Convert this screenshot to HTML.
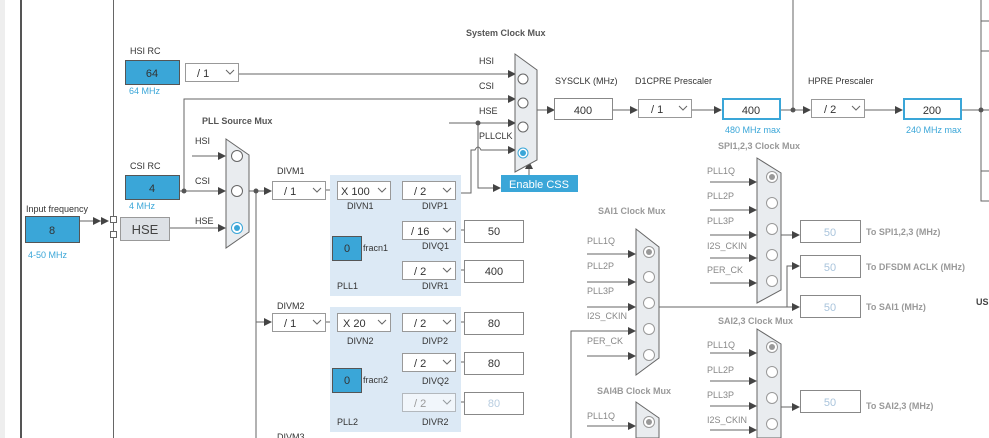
<!DOCTYPE html>
<html><head><style>
html,body{margin:0;padding:0;background:#fff;}
svg{display:block;font-family:"Liberation Sans",Arial,sans-serif;}
.l{font-size:9px;fill:#333;}
.g{font-size:9px;fill:#888;}
.b{font-size:9px;fill:#3aa6d8;}
.t{font-size:9px;fill:#555;font-weight:bold;}
.tg{font-size:9px;fill:#999;font-weight:bold;}
.v{font-size:11px;fill:#333;}
</style></head><body>
<svg width="989" height="438" viewBox="0 0 989 438" xmlns="http://www.w3.org/2000/svg">
<defs>
<marker id="a" markerWidth="8" markerHeight="8" refX="7" refY="4" orient="auto" markerUnits="userSpaceOnUse"><path d="M0,0 L8,4 L0,8z" fill="#444"/></marker>
<symbol id="dd" viewBox="0 0 54 19"><rect x="0.5" y="0.5" width="53" height="18" fill="#fff" stroke="#999"/><path d="M41,7 l4,4 l4,-4" fill="none" stroke="#666"/></symbol>
</defs>
<rect x="0" y="0" width="5" height="438" fill="#eee"/>
<rect x="20" y="0" width="2" height="438" fill="#555"/>
<line x1="113.5" y1="0" x2="113.5" y2="438" stroke="#666"/>

<g stroke="#666" fill="none">
<line x1="239" y1="74" x2="515" y2="74" marker-end="url(#a)"/>
<polyline points="184,191 184,99 515,99" marker-end="url(#a)"/>
<line x1="449" y1="123" x2="515" y2="123" marker-end="url(#a)"/>
<path d="M456,193 H471 V150 H475 Q478,144 481,150 H515" marker-end="url(#a)"/>
<polyline points="478,123 478,188 500,188" marker-end="url(#a)"/>
<line x1="529" y1="175" x2="529" y2="162" marker-end="url(#a)"/>
<line x1="537" y1="110" x2="554" y2="110" marker-end="url(#a)"/>
<line x1="612" y1="110" x2="637" y2="110" marker-end="url(#a)"/>
<line x1="692" y1="110" x2="721" y2="110" marker-end="url(#a)"/>
<line x1="780" y1="110" x2="810" y2="110" marker-end="url(#a)"/>
<line x1="793" y1="0" x2="793" y2="110"/>
<line x1="864" y1="110" x2="902" y2="110" marker-end="url(#a)"/>
<line x1="961" y1="110" x2="989" y2="110"/>
<polyline points="981,0 981,201 989,201"/>
<line x1="981" y1="21" x2="989" y2="21"/><line x1="981" y1="51" x2="989" y2="51"/><line x1="981" y1="171" x2="989" y2="171"/>
<line x1="192" y1="156" x2="225" y2="156" marker-end="url(#a)"/>
<line x1="179" y1="191" x2="225" y2="191" marker-end="url(#a)"/>
<line x1="169" y1="228" x2="225" y2="228" marker-end="url(#a)"/>
<line x1="80" y1="221" x2="100" y2="221" marker-end="url(#a)"/>
<line x1="100" y1="221" x2="108" y2="221" marker-end="url(#a)"/>
<line x1="249" y1="191" x2="271" y2="191" marker-end="url(#a)"/>
<line x1="256" y1="191" x2="256" y2="438"/>
<line x1="256" y1="322" x2="271" y2="322" marker-end="url(#a)"/>
<line x1="326" y1="190" x2="337" y2="190"/><line x1="391" y1="190" x2="402" y2="190"/>
<polyline points="394,190 394,270 402,270"/><line x1="394" y1="230" x2="402" y2="230"/>
<line x1="456" y1="230" x2="464" y2="230"/><line x1="456" y1="270" x2="464" y2="270"/>
<line x1="326" y1="322" x2="337" y2="322"/><line x1="391" y1="322" x2="402" y2="322"/>
<polyline points="394,322 394,402 402,402"/><line x1="394" y1="362" x2="402" y2="362"/>
<line x1="456" y1="322" x2="464" y2="322"/><line x1="456" y1="362" x2="464" y2="362"/><line x1="456" y1="402" x2="464" y2="402"/>
<!-- SPI inputs -->
<line x1="710" y1="182" x2="756" y2="182" marker-end="url(#a)"/>
<line x1="710" y1="210" x2="756" y2="210" marker-end="url(#a)"/>
<line x1="710" y1="235" x2="756" y2="235" marker-end="url(#a)"/>
<line x1="710" y1="258" x2="756" y2="258" marker-end="url(#a)"/>
<line x1="710" y1="283" x2="756" y2="283" marker-end="url(#a)"/>
<line x1="781" y1="235" x2="799" y2="235" marker-end="url(#a)"/>
<!-- SAI1 -->
<line x1="587" y1="254" x2="635" y2="254" marker-end="url(#a)"/>
<line x1="587" y1="282" x2="635" y2="282" marker-end="url(#a)"/>
<line x1="587" y1="307" x2="635" y2="307" marker-end="url(#a)"/>
<polyline points="571,438 571,331 635,331" marker-end="url(#a)"/>
<line x1="587" y1="356" x2="635" y2="356" marker-end="url(#a)"/>
<line x1="659" y1="307" x2="799" y2="307" marker-end="url(#a)"/>
<polyline points="787,307 787,266 799,266" marker-end="url(#a)"/>
<!-- SAI2,3 -->
<line x1="710" y1="353" x2="756" y2="353" marker-end="url(#a)"/>
<line x1="710" y1="381" x2="756" y2="381" marker-end="url(#a)"/>
<line x1="710" y1="406" x2="756" y2="406" marker-end="url(#a)"/>
<line x1="710" y1="430" x2="756" y2="430" marker-end="url(#a)"/>
<line x1="781" y1="407" x2="799" y2="407" marker-end="url(#a)"/>
<line x1="587" y1="426" x2="635" y2="426" marker-end="url(#a)"/>
</g>
<g fill="#555"><circle cx="184" cy="191" r="2.5"/><circle cx="256" cy="191" r="2.5"/><circle cx="478" cy="123" r="2.5"/><circle cx="793" cy="110" r="2.5"/><circle cx="981" cy="110" r="2.5"/></g>
<g fill="#fff" stroke="#666"><rect x="110.5" y="216.5" width="6" height="6"/><rect x="110.5" y="231.5" width="6" height="6"/></g>

<!-- PLL panels -->
<rect x="330" y="175" width="131" height="121" fill="#dce9f5"/>
<rect x="330" y="307" width="131" height="125" fill="#dce9f5"/>

<!-- blue boxes -->
<g fill="#3aa6d8" stroke="#555"><rect x="125.5" y="60.5" width="54" height="24"/><rect x="125.5" y="175.5" width="54" height="24"/><rect x="25.5" y="216.5" width="54" height="26"/><rect x="332.5" y="236.5" width="29" height="24"/><rect x="332.5" y="368.5" width="29" height="24"/></g>
<text class="v" x="152" y="77" text-anchor="middle">64</text>
<text class="v" x="152" y="192" text-anchor="middle">4</text>
<text class="v" x="52" y="234" text-anchor="middle">8</text>
<text class="v" x="347" y="252" text-anchor="middle">0</text>
<text class="v" x="347" y="384" text-anchor="middle">0</text>
<rect x="120.5" y="217.5" width="49" height="23" fill="#dde1e6" stroke="#999"/>
<text x="145" y="234" text-anchor="middle" style="font-size:13px;fill:#444">HSE</text>

<!-- dropdowns -->
<use href="#dd" x="185" y="63" width="54" height="19"/><text class="v" x="197" y="77">/ 1</text>
<use href="#dd" x="272" y="181" width="54" height="19"/><text class="v" x="284" y="195">/ 1</text>
<use href="#dd" x="337" y="181" width="54" height="19"/><text class="v" x="341" y="195">X 100</text>
<use href="#dd" x="402" y="181" width="54" height="19"/><text class="v" x="414" y="195">/ 2</text>
<use href="#dd" x="402" y="221" width="54" height="19"/><text class="v" x="411" y="235">/ 16</text>
<use href="#dd" x="402" y="261" width="54" height="19"/><text class="v" x="414" y="275">/ 2</text>
<use href="#dd" x="272" y="313" width="54" height="19"/><text class="v" x="284" y="327">/ 1</text>
<use href="#dd" x="337" y="313" width="54" height="19"/><text class="v" x="343" y="327">X 20</text>
<use href="#dd" x="402" y="313" width="54" height="19"/><text class="v" x="414" y="327">/ 2</text>
<use href="#dd" x="402" y="353" width="54" height="19"/><text class="v" x="414" y="367">/ 2</text>
<use href="#dd" x="402" y="393" width="54" height="19" opacity="0.6"/><text class="v" x="414" y="407" style="fill:#999">/ 2</text>
<use href="#dd" x="638" y="99" width="54" height="19"/><text class="v" x="651" y="113">/ 1</text>
<use href="#dd" x="811" y="99" width="54" height="19"/><text class="v" x="824" y="113">/ 2</text>

<!-- value boxes -->
<g fill="#fff" stroke="#888">
<rect x="464.5" y="220.5" width="59" height="22"/><rect x="464.5" y="260.5" width="59" height="22"/>
<rect x="464.5" y="312.5" width="59" height="22"/><rect x="464.5" y="352.5" width="59" height="22"/><rect x="464.5" y="392.5" width="59" height="22"/>
<rect x="554.5" y="98.5" width="58" height="21"/>
<rect x="800.5" y="220.5" width="60" height="22"/><rect x="800.5" y="255.5" width="60" height="22"/><rect x="800.5" y="295.5" width="60" height="22"/><rect x="800.5" y="390.5" width="60" height="22"/>
</g>
<g fill="#fff" stroke="#3aa6d8" stroke-width="2"><rect x="723" y="99" width="57" height="20"/><rect x="904" y="99" width="57" height="20"/></g>
<g class="v" text-anchor="middle">
<text x="494" y="235">50</text><text x="494" y="275">400</text><text x="494" y="327">80</text><text x="494" y="367">80</text><text x="494" y="407" style="fill:#b8cde0">80</text>
<text x="583" y="114">400</text><text x="751" y="114">400</text><text x="932" y="114">200</text>
<g style="fill:#a9c4dc"><text x="830" y="236">50</text><text x="830" y="271">50</text><text x="830" y="311">50</text><text x="830" y="406">50</text></g>
</g>
<rect x="501" y="175" width="77" height="17" fill="#3aa6d8"/>
<text x="539" y="188" text-anchor="middle" style="font-size:11px;fill:#fff">Enable CSS</text>

<!-- muxes -->
<g fill="#e9ecef" stroke="#666">
<polygon points="226,139 249,155 249,232 226,248"/>
<polygon points="515,54 537,70 537,160 515,172"/>
<polygon points="757,158 781,173 781,290 757,303"/>
<polygon points="636,229 659,247 659,358 636,375"/>
<polygon points="757,329 781,344 781,438 757,438"/>
<polygon points="636,402 659,418 659,438 636,438"/>
</g>
<g fill="#fff" stroke="#666">
<circle cx="237" cy="156" r="5.5"/><circle cx="237" cy="191" r="5.5"/><circle cx="237" cy="228" r="5.5" stroke="#3aa6d8"/>
<circle cx="523" cy="79" r="5"/><circle cx="523" cy="103" r="5"/><circle cx="523" cy="127" r="5"/><circle cx="523" cy="153" r="5" stroke="#3aa6d8"/>
</g>
<g fill="#fff" stroke="#999">
<circle cx="772" cy="177" r="5.5"/><circle cx="772" cy="203" r="5.5"/><circle cx="772" cy="229" r="5.5"/><circle cx="772" cy="255" r="5.5"/><circle cx="772" cy="281" r="5.5"/>
<circle cx="649" cy="252" r="5.5"/><circle cx="649" cy="277" r="5.5"/><circle cx="649" cy="303" r="5.5"/><circle cx="649" cy="329" r="5.5"/><circle cx="649" cy="355" r="5.5"/>
<circle cx="772" cy="347" r="5.5"/><circle cx="772" cy="372" r="5.5"/><circle cx="772" cy="398" r="5.5"/><circle cx="772" cy="424" r="5.5"/>
<circle cx="649" cy="422" r="5.5"/>
</g>
<g fill="#3aa6d8"><circle cx="237" cy="228" r="3"/><circle cx="523" cy="153" r="3"/></g>
<g fill="#999"><circle cx="772" cy="177" r="3"/><circle cx="649" cy="252" r="3"/><circle cx="772" cy="347" r="3"/><circle cx="649" cy="422" r="3"/></g>

<!-- labels -->
<text class="l" x="130" y="54">HSI RC</text>
<text class="b" x="129" y="94">64 MHz</text>
<text class="l" x="130" y="169">CSI RC</text>
<text class="b" x="129" y="209">4 MHz</text>
<text class="l" x="26" y="212">Input frequency</text>
<text class="b" x="28" y="258">4-50 MHz</text>
<text class="t" x="202" y="124">PLL Source Mux</text>
<text class="l" x="195" y="144">HSI</text><text class="l" x="195" y="184">CSI</text><text class="l" x="195" y="224">HSE</text>
<text class="l" x="277" y="174">DIVM1</text><text class="l" x="277" y="309">DIVM2</text><text class="l" x="277" y="440">DIVM3</text>
<text class="l" x="347" y="209">DIVN1</text><text class="l" x="422" y="209">DIVP1</text><text class="l" x="422" y="249">DIVQ1</text><text class="l" x="422" y="289">DIVR1</text>
<text class="l" x="363" y="251">fracn1</text><text class="l" x="337" y="289">PLL1</text>
<text class="l" x="347" y="344">DIVN2</text><text class="l" x="422" y="344">DIVP2</text><text class="l" x="422" y="384">DIVQ2</text><text class="l" x="422" y="425">DIVR2</text>
<text class="l" x="363" y="383">fracn2</text><text class="l" x="337" y="425">PLL2</text>
<text class="t" x="466" y="36">System Clock Mux</text>
<text class="l" x="479" y="64">HSI</text><text class="l" x="479" y="89">CSI</text><text class="l" x="479" y="114">HSE</text><text class="l" x="479" y="139">PLLCLK</text>
<text class="l" x="555" y="84">SYSCLK (MHz)</text><text class="l" x="635" y="84">D1CPRE Prescaler</text><text class="l" x="808" y="84">HPRE Prescaler</text>
<text class="b" x="725" y="133">480 MHz max</text><text class="b" x="906" y="133">240 MHz max</text>
<text class="tg" x="718" y="149">SPI1,2,3 Clock Mux</text>
<text class="tg" x="598" y="214">SAI1 Clock Mux</text>
<text class="tg" x="718" y="324">SAI2,3 Clock Mux</text>
<text class="tg" x="597" y="394">SAI4B Clock Mux</text>
<g class="g">
<text x="707" y="174">PLL1Q</text><text x="707" y="199">PLL2P</text><text x="707" y="224">PLL3P</text><text x="707" y="249">I2S_CKIN</text><text x="707" y="273">PER_CK</text>
<text x="587" y="244">PLL1Q</text><text x="587" y="269">PLL2P</text><text x="587" y="294">PLL3P</text><text x="587" y="319">I2S_CKIN</text><text x="587" y="344">PER_CK</text>
<text x="707" y="348">PLL1Q</text><text x="707" y="373">PLL2P</text><text x="707" y="398">PLL3P</text><text x="707" y="423">I2S_CKIN</text>
<text x="587" y="419">PLL1Q</text>
</g>
<g class="tg"><text x="866" y="235">To SPI1,2,3 (MHz)</text><text x="866" y="270">To DFSDM ACLK (MHz)</text><text x="866" y="310">To SAI1 (MHz)</text><text x="866" y="409">To SAI2,3 (MHz)</text></g>
<text x="976" y="305" style="font-size:9px;font-weight:bold;fill:#444">US</text>
</svg>
</body></html>
